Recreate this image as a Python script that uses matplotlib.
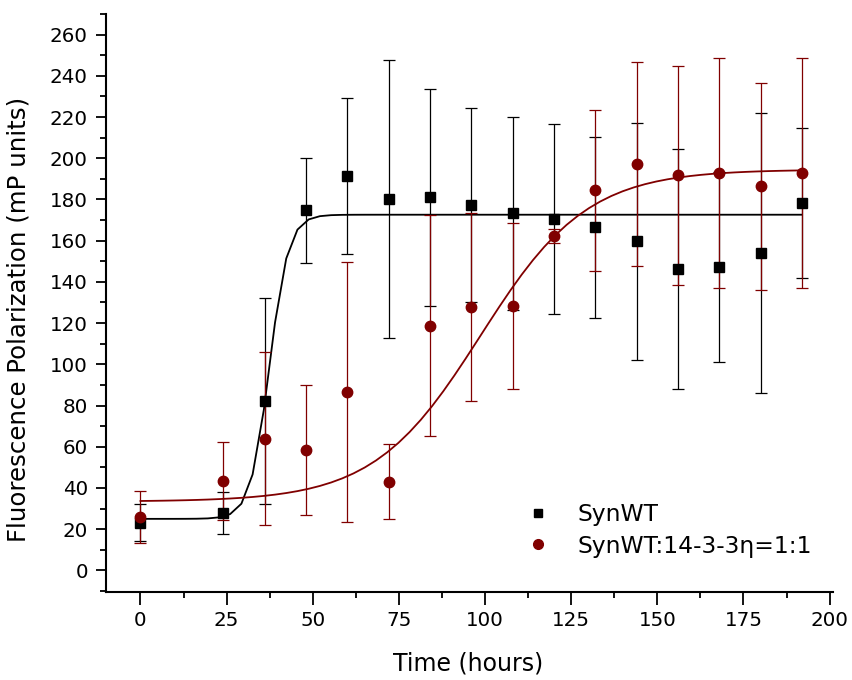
import numpy as np
import matplotlib
matplotlib.use("Agg")
import matplotlib.pyplot as plt
from matplotlib.lines import Line2D
from matplotlib.ticker import MultipleLocator

plt.rcParams['font.family'] = ['DejaVu Sans']

# Measurement times (hours)
time_h = [0, 24, 36, 48, 60, 72, 84, 96, 108, 120, 132, 144, 156, 168, 180, 192]

# SynWT alone
syn_mean = [23.2, 27.8, 82.1, 174.7, 191.3, 180.2, 181.0, 177.3, 173.2, 170.5,
            166.4, 159.6, 146.2, 147.2, 154.0, 178.5]
syn_err = [9.0, 10.0, 50.0, 25.5, 38.0, 67.5, 52.5, 47.0, 47.0, 46.0,
           44.0, 57.6, 58.3, 46.3, 68.0, 36.4]

# SynWT with 14-3-3 eta (1:1)
mix_mean = [25.8, 43.4, 63.8, 58.5, 86.5, 43.1, 118.8, 128.0, 128.4, 162.4,
            184.4, 197.0, 191.7, 192.8, 186.3, 192.8]
mix_err = [12.5, 19.0, 42.0, 31.7, 63.0, 18.0, 53.5, 45.6, 40.4, 3.5,
           39.0, 49.5, 53.0, 55.8, 50.0, 55.8]

# Boltzmann fit parameters: bottom, top, midpoint, width
syn_fit = [25.0, 172.6, 37.4, 2.75]
mix_fit = [33.4, 194.5, 98.7, 15.5]

labels = ["SynWT", "SynWT:14-3-3\u03b7=1:1"]
black = "#000000"
wine = "#800000"


def boltzmann(t, a1, a2, x0, dx):
    return a2 + (a1 - a2) / (1.0 + np.exp((t - x0) / dx))


fig = plt.figure(figsize=(8.53, 6.8), dpi=100)
ax = fig.add_axes([0.1243, 0.1294, 0.8523, 0.85])

t_fit = np.linspace(0, 192, 60)
ax.plot(t_fit, boltzmann(t_fit, *syn_fit), color=black, lw=1.3, zorder=2)
ax.plot(t_fit, boltzmann(t_fit, *mix_fit), color=wine, lw=1.3, zorder=2)

ax.errorbar(time_h, syn_mean, yerr=syn_err, fmt='s', color=black, ms=7,
            ecolor=black, elinewidth=0.9, capsize=4, capthick=0.9, zorder=3)
ax.errorbar(time_h, mix_mean, yerr=mix_err, fmt='o', color=wine, ms=7.5,
            ecolor=wine, elinewidth=0.9, capsize=4, capthick=0.9, zorder=3)

ax.set_xlim(-10, 201)
ax.set_ylim(-10.5, 270)
ax.xaxis.set_major_locator(MultipleLocator(25))
ax.xaxis.set_minor_locator(MultipleLocator(12.5))
ax.yaxis.set_major_locator(MultipleLocator(20))
ax.yaxis.set_minor_locator(MultipleLocator(10))
ax.set_yticks(np.arange(0, 261, 20))

for side in ("top", "right"):
    ax.spines[side].set_visible(False)
for side in ("left", "bottom"):
    ax.spines[side].set_linewidth(1.5)

ax.tick_params(axis='x', which='major', direction='out', length=9, width=1.3,
               labelsize=14.3, pad=4.5)
ax.tick_params(axis='y', which='major', direction='out', length=7.5, width=1.3,
               labelsize=14.3, pad=5.5)
ax.tick_params(which='minor', direction='out', length=4, width=1.3)

fig.text(468 / 853, 1 - 664 / 680, "Time (hours)", fontsize=17,
         ha='center', va='center')
fig.text(19 / 853, 1 - 319 / 680, "Fluorescence Polarization (mP units)",
         fontsize=17.6, rotation=90, ha='center', va='center')

handles = [
    Line2D([], [], marker='s', ls='none', color=black, ms=6),
    Line2D([], [], marker='o', ls='none', color=wine, ms=7),
]
fig.legend(handles, labels, loc='center left',
           bbox_to_anchor=(526.5 / 853, 1 - 530.5 / 680),
           frameon=False, fontsize=16.8, handletextpad=1.2, labelspacing=0.35,
           handlelength=1.0, borderpad=0, borderaxespad=0)

fig.savefig("out.png", dpi=100)
